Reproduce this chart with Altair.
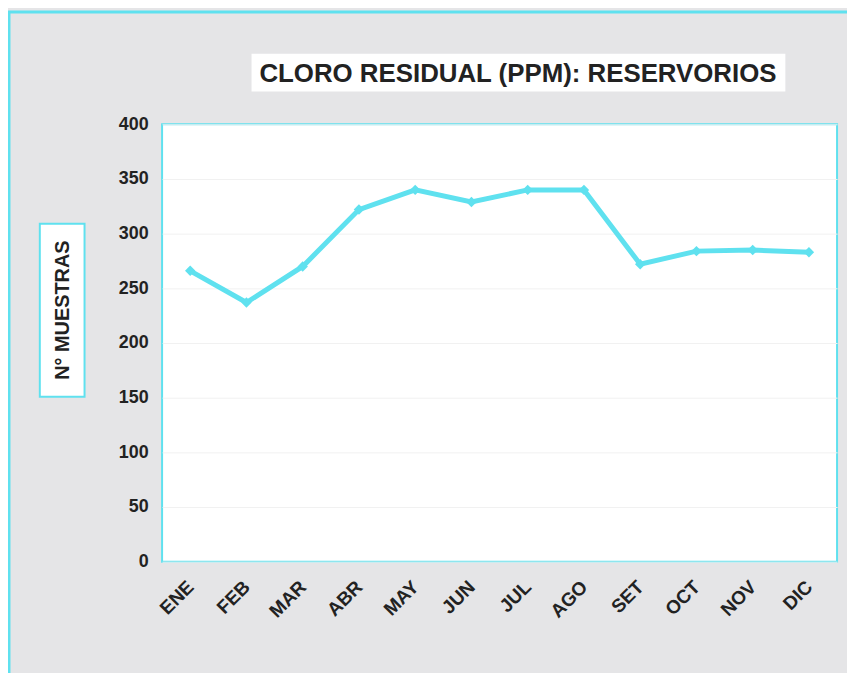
import altair as alt
import pandas as pd

months = ["ENE", "FEB", "MAR", "ABR", "MAY", "JUN", "JUL", "AGO", "SET", "OCT", "NOV", "DIC"]
values = [266, 237, 270, 322, 340, 329, 340, 340, 272, 284, 285, 283]
y_ticks = [0, 50, 100, 150, 200, 250, 300, 350, 400]
title_text = "CLORO RESIDUAL (PPM): RESERVORIOS"
y_title = "N° MUESTRAS"

CYAN = "#5fe1ef"
FONT = "Liberation Sans"

df = pd.DataFrame({"mes": months, "n": values})
one = pd.DataFrame({"a": [0]})

x_enc = alt.X("mes:N", sort=months, title=None,
              scale=alt.Scale(paddingInner=0, paddingOuter=0),
              axis=alt.Axis(labelAngle=-45, labelAlign="right", labelBaseline="middle",
                            labelPadding=22, labelFont=FONT, labelFontWeight="bold",
                            labelFontSize=19, labelColor="#222222", domain=False,
                            ticks=False, grid=False))
y_enc = alt.Y("n:Q", title=None, scale=alt.Scale(domain=[0, 400], nice=False),
              axis=alt.Axis(values=y_ticks, labelPadding=14, labelFont=FONT,
                            labelFontWeight="bold", labelFontSize=18,
                            labelColor="#222222", domain=False, ticks=False,
                            grid=True, gridColor="#f1f1f1", gridWidth=1))

line = alt.Chart(df).mark_line(color=CYAN, strokeWidth=5).encode(x=x_enc, y=y_enc)
pts = alt.Chart(df).mark_point(shape="diamond", filled=True, color=CYAN, size=110,
                               opacity=1).encode(x=alt.X("mes:N", sort=months),
                                                 y="n:Q")

outer = alt.Chart(one).mark_rect(fill=None, stroke=CYAN, strokeWidth=3, clip=False).encode(
    x=alt.value(-154), x2=alt.value(740), y=alt.value(-113), y2=alt.value(700))

title_box = alt.Chart(one).mark_rect(fill="white", clip=False).encode(
    x=alt.value(90), x2=alt.value(627), y=alt.value(-71), y2=alt.value(-33))
title_txt = alt.Chart(one).mark_text(text=title_text, font=FONT, fontWeight="bold",
                                     fontSize=26, color="#222222", align="center",
                                     baseline="middle", clip=False).encode(
    x=alt.value(358), y=alt.value(-51))

ybox = alt.Chart(one).mark_rect(fill="white", stroke=CYAN, strokeWidth=2, clip=False).encode(
    x=alt.value(-123), x2=alt.value(-78), y=alt.value(100), y2=alt.value(274))
ytxt = alt.Chart(one).mark_text(text=y_title, font=FONT, fontWeight="bold", fontSize=20,
                                color="#222222", angle=270, align="center",
                                baseline="middle", clip=False).encode(
    x=alt.value(-100), y=alt.value(187))

chart = alt.layer(outer, title_box, title_txt, ybox, ytxt, line, pts).properties(
    width=679, height=440,
    autosize=alt.AutoSizeParams(type="none"),
    padding={"left": 155, "top": 115, "right": 10, "bottom": 110},
    background="#e5e5e7",
).configure_view(stroke=CYAN, strokeWidth=2, fill="white")

chart.save("out.html", embed_options={"renderer": "svg", "actions": False})
